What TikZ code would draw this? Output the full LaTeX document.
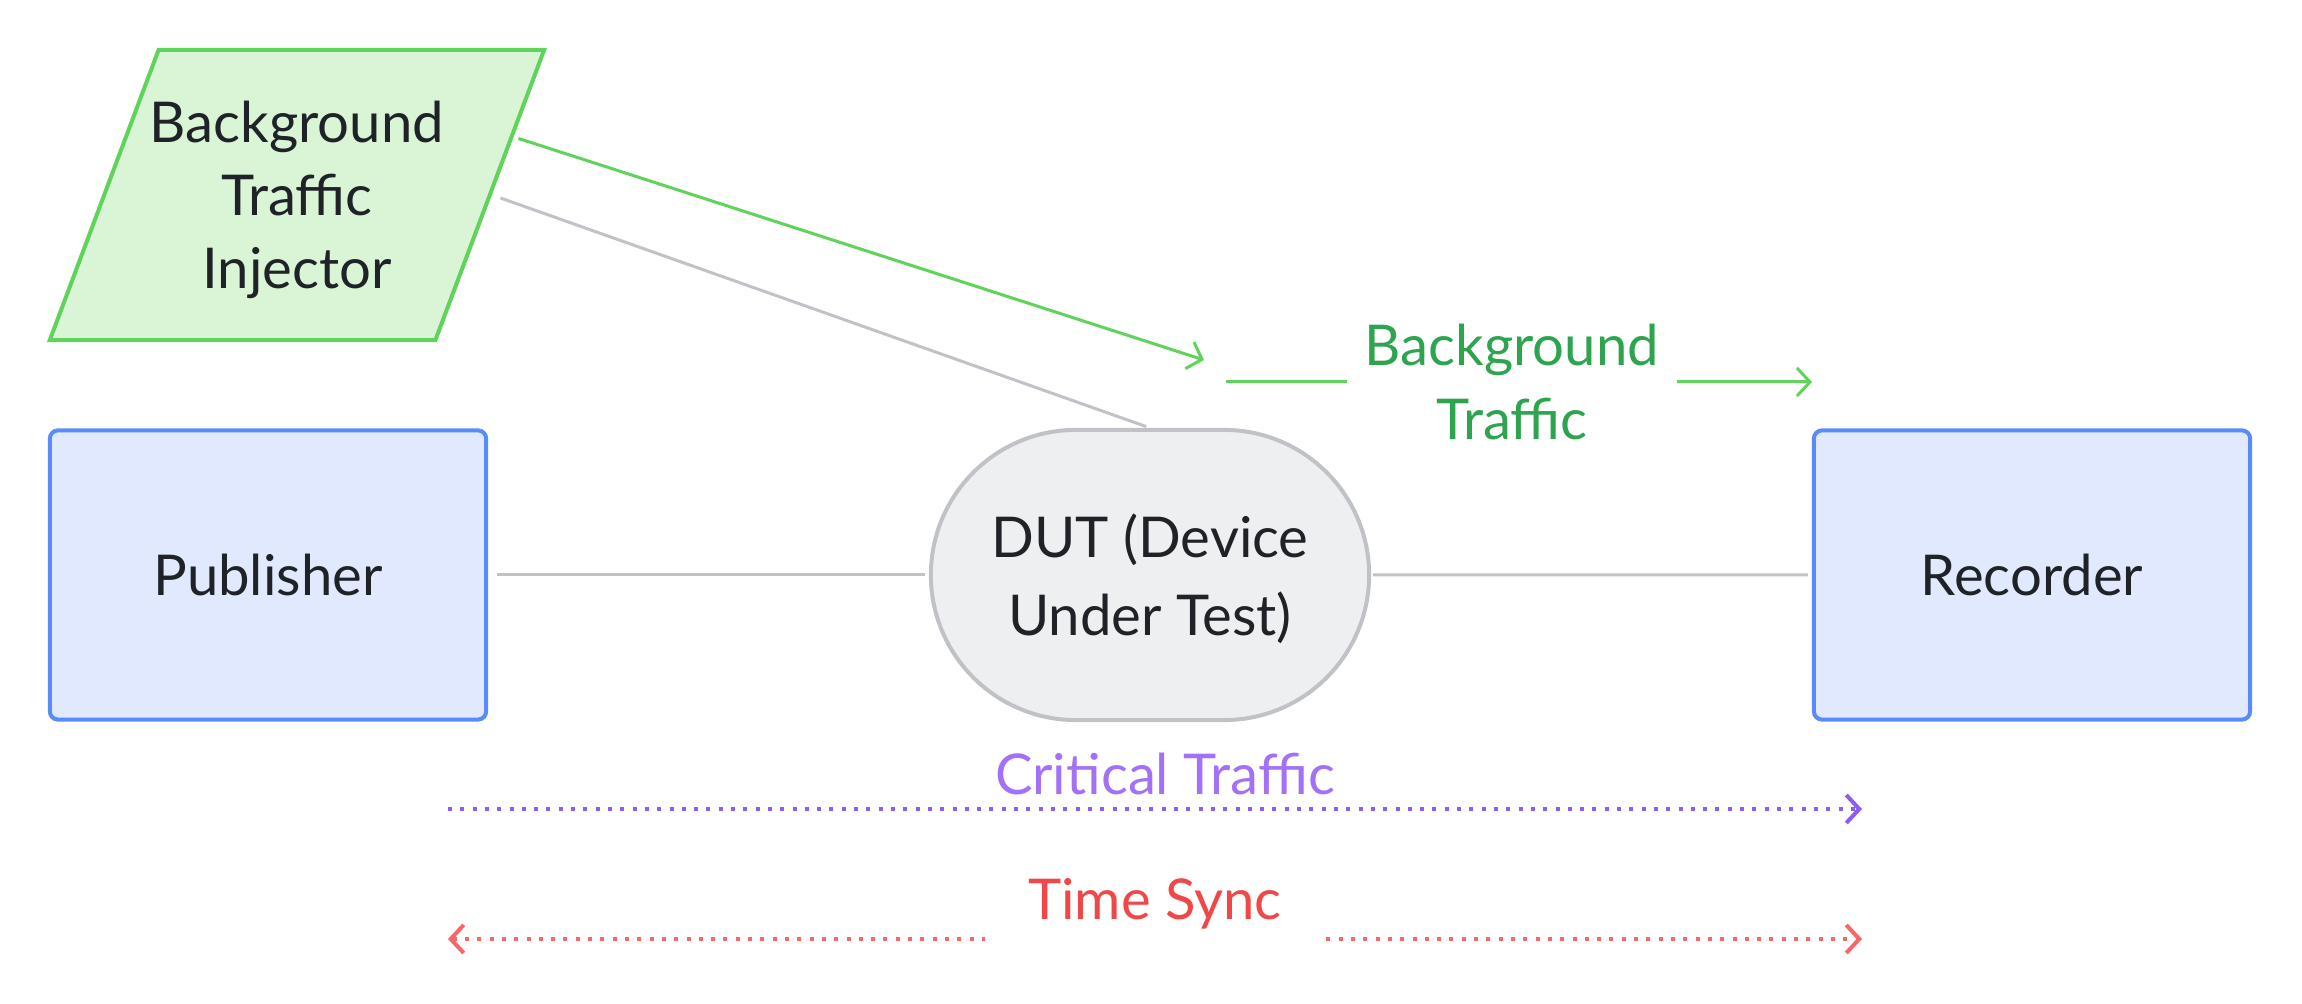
\documentclass[tikz,border=0pt]{standalone}
\usepackage{fontspec}
\setmainfont{Lato}
\definecolor{injdraw}{HTML}{5FD35A}
\definecolor{injfill}{HTML}{DAF4D6}
\definecolor{boxdraw}{HTML}{5A8BFA}
\definecolor{boxfill}{HTML}{E0E9FD}
\definecolor{dutdraw}{HTML}{C0C2C7}
\definecolor{dutfill}{HTML}{EEEFF1}
\definecolor{ink}{HTML}{1F2328}
\definecolor{bgtext}{HTML}{2DA44E}
\definecolor{ctline}{HTML}{8B5CF6}
\definecolor{cttext}{HTML}{A371F7}
\definecolor{tsline}{HTML}{F56868}
\definecolor{tstext}{HTML}{F04848}
\usetikzlibrary{arrows.meta,shapes.geometric,shapes.misc}
\tikzset{
  flownode/.style = {align=center, inner sep=0pt, text=ink,
    font=\fontsize{16pt}{20.8pt}\selectfont, line width=0.04cm},
  fn_box/.style = {flownode, rectangle, rounded corners=2.3pt,
    draw=boxdraw, fill=boxfill,
    minimum width=4.36cm, minimum height=2.89cm},% publisher, recorder
  fn_dut/.style = {flownode, rounded rectangle, draw=dutdraw, fill=dutfill,
    text depth=0pt, minimum width=4.38cm, minimum height=2.9cm},% device under test
  fn_inj/.style = {flownode, trapezium, trapezium stretches=true,
    trapezium left angle=62, trapezium right angle=118,
    inner xsep=-0.2cm, draw=injdraw, fill=injfill, text depth=0pt,
    minimum width=4.95cm, minimum height=2.9cm},% injector
  lbl/.style = {font=\fontsize{16pt}{20.8pt}\selectfont, align=center,
    inner sep=0pt},
  e_plain/.style = {draw=dutdraw, line width=0.03cm},
  e_bg/.style = {draw=injdraw, line width=0.03cm},
  e_ct/.style = {draw=ctline, line width=0.04cm,
    dash pattern=on 0.04cm off 0.083cm},
  e_ts/.style = {draw=tsline, line width=0.04cm,
    dash pattern=on 0.04cm off 0.083cm}
}

\begin{document}
\begin{tikzpicture}[x=0.01cm,y=-0.01cm,
  >={Straight Barb[length=0.13cm,width=0.28cm]}]
\useasboundingbox (0,0) rectangle (2302,1004);

% nodes
\node [fn_inj] (inj) at (297,195) {Background\\Traffic\\Injector};
\node [fn_box] (pub) at (268,575) {Publisher};
\node [fn_dut] (dut) at (1150,575) {DUT (Device\\[0.05cm]Under Test)};
\node [fn_box] (rec) at (2032,575) {Recorder};

% free ends
\coordinate (bgend) at (1204,360);
\coordinate (bgfrom) at (1226,382);
\coordinate (bgto) at (1812,382);
\coordinate (ctfrom) at (448,809);
\coordinate (ctto) at (1862,809);
\coordinate (tsfrom) at (448,939);
\coordinate (tsto) at (1862,939);

% links
\draw [e_plain, shorten <=0.09cm, shorten >=0.04cm] (pub) -- (dut);
\draw [e_plain, shorten <=0.02cm, shorten >=0.04cm] (dut) -- (rec);
\draw [e_plain, shorten <=0.09cm, shorten >=0.04cm] (inj.east) -- (dut.north);
\draw [e_bg, ->, shorten <=0.05cm] (inj.15) -- (bgend);
\draw [e_bg, ->] (bgfrom) -- (bgto)
  node [lbl, midway, xshift=-0.07cm, fill=white, text=bgtext,
    inner xsep=0.18cm, inner ysep=0.05cm] {Background\\Traffic};

% legend lines
\draw [e_ct, ->] (ctfrom) -- (ctto)
  node [lbl, midway, xshift=0.1cm, yshift=0.35cm, text=cttext] {Critical Traffic};
\draw [e_ts, <->] (tsfrom) -- (tsto)
  node [lbl, midway, yshift=0.35cm, fill=white, text=tstext,
    inner xsep=0.43cm, inner ysep=0.2cm] {Time Sync};
\end{tikzpicture}
\end{document}
